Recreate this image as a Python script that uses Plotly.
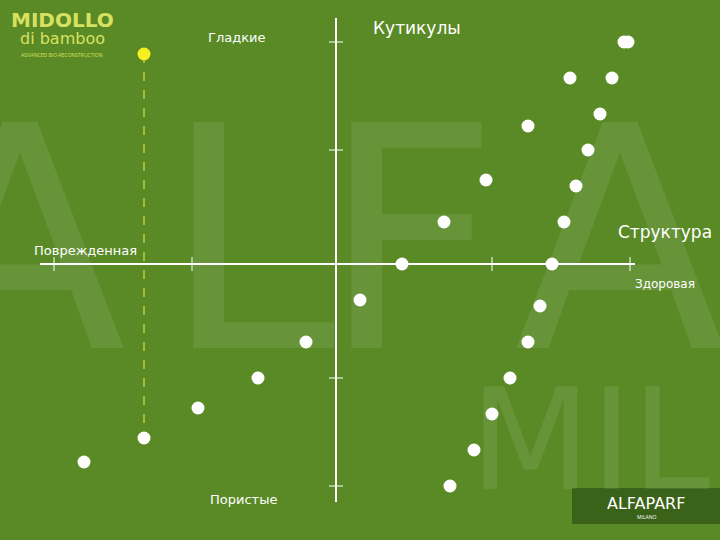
import plotly.graph_objects as go

left_x = [84,144,198,258,306,360,402,444,486,528,570,624]
left_y = [462,438,408,378,342,300,264,222,180,126,78,42]
right_x = [628,612,600,588,576,564,552,540,528,510,492,474,450]
right_y = [42,78,114,150,186,222,264,306,342,378,414,450,486]
hi_x = [144]
hi_y = [54]
xticks = [54,192,492,630]
yticks = [42,150,378,486]

bg = "#5a8a26"
fig = go.Figure()
for t,x,y,s in [("A",20,240,310),("L",250,240,310),("F",410,240,310),("A",620,240,310),("MIL",590,440,140)]:
    fig.add_annotation(x=x,y=y,text=t,showarrow=False,font=dict(size=s,color="rgba(255,255,255,0.09)",family="DejaVu Sans"))
fig.add_trace(go.Scatter(x=[hi_x[0],left_x[1]],y=[hi_y[0],left_y[1]],mode="lines",line=dict(color="#f0f040",width=1,dash="dash"),hoverinfo="skip"))
fig.add_trace(go.Scatter(x=left_x+right_x,y=left_y+right_y,mode="markers",marker=dict(color="white",size=13)))
fig.add_trace(go.Scatter(x=hi_x,y=hi_y,mode="markers",marker=dict(color="#f5f020",size=13)))
shapes=[dict(type="line",x0=40,x1=635,y0=264,y1=264,line=dict(color="white",width=2)),
        dict(type="line",x0=336,x1=336,y0=18,y1=502,line=dict(color="white",width=2))]
for x in xticks:
    shapes.append(dict(type="line",x0=x,x1=x,y0=257,y1=271,line=dict(color="white",width=1)))
for y in yticks:
    shapes.append(dict(type="line",x0=329,x1=343,y0=y,y1=y,line=dict(color="white",width=1)))
shapes.append(dict(type="rect",x0=572,x1=720,y0=488,y1=524,fillcolor="#3a6218",line=dict(width=0)))
fig.update_layout(shapes=shapes)
labels=[("Гладкие",237,37,13),("Кутикулы",417,28,17),("Структура",665,232,17),("Поврежденная",85,250,13),
        ("Здоровая",665,284,12),("Пористые",243,499,13)]
for t,x,y,s in labels:
    fig.add_annotation(x=x,y=y,text=t,showarrow=False,font=dict(size=s,color="white",family="DejaVu Sans"))
fig.add_annotation(x=62,y=20,text="<b>MIDOLLO</b>",showarrow=False,font=dict(size=20,color="#d8e060",family="DejaVu Sans"))
fig.add_annotation(x=62,y=38,text="di bamboo",showarrow=False,font=dict(size=16,color="#d8e060",family="DejaVu Sans"))
fig.add_annotation(x=62,y=55,text="ADVANCED BIO-RECONSTRUCTION",showarrow=False,font=dict(size=5,color="#d8e060"))
fig.add_annotation(x=646,y=503,text="ALFAPARF",showarrow=False,font=dict(size=16,color="white",family="DejaVu Sans"))
fig.add_annotation(x=646,y=517,text="MILANO",showarrow=False,font=dict(size=5,color="white"))
fig.update_xaxes(range=[0,720],visible=False)
fig.update_yaxes(range=[540,0],visible=False)
fig.update_layout(width=720,height=540,margin=dict(l=0,r=0,t=0,b=0),paper_bgcolor=bg,plot_bgcolor=bg,showlegend=False)
fig.write_html("out.html",config={"displayModeBar":False},post_script="document.body.style.margin='0';document.body.style.overflow='hidden';")
